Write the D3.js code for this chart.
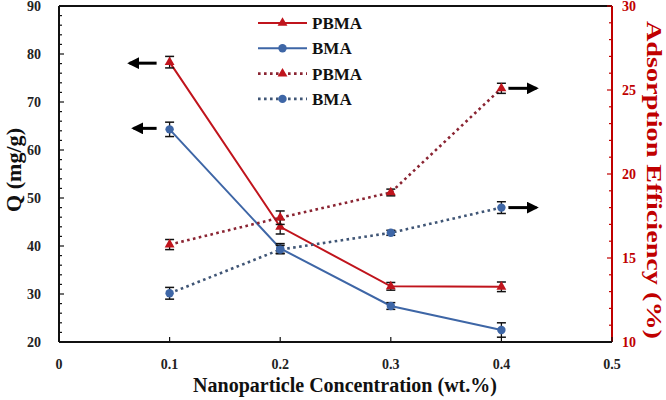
<!DOCTYPE html>
<html>
<head>
<meta charset="utf-8">
<script src="https://cdn.jsdelivr.net/npm/d3@7"></script>
<style>
  body { margin: 0; background: #fff; }
  text { font-family: "Liberation Serif", "Times New Roman", serif; font-weight: bold; }
</style>
</head>
<body>
<div id="chart"></div>
<script>
// Data
const conc = [0.1, 0.2, 0.3, 0.4];
const qPBMA = [78.3, 44.0, 31.6, 31.5];
const qPBMAErr = [1.2, 1.5, 0.8, 1.0];
const qBMA = [64.3, 39.5, 27.5, 22.5];
const qBMAErr = [1.5, 1.0, 0.7, 1.5];
const effPBMA = [15.8, 17.4, 18.9, 25.1];
const effPBMAErr = [0.3, 0.4, 0.2, 0.3];
const effBMA = [12.9, 15.5, 16.5, 18.0];
const effBMAErr = [0.35, 0.25, 0.15, 0.35];
const xTicks = [0, 0.1, 0.2, 0.3, 0.4, 0.5];
const yLeftTicks = [20, 30, 40, 50, 60, 70, 80, 90];
const yRightTicks = [10, 15, 20, 25, 30];
const legendLabels = ["PBMA", "BMA", "PBMA", "BMA"];

// Constants
const width = 666;
const height = 400;
const RED = "#C0141C";
const BLUE = "#3E66A6";
const RED_DOT = "#8A2432";
const BLUE_DOT = "#3F5575";
const AXIS_RED = "#C00000";

const svg = d3.select("#chart")
  .append("svg")
  .attr("width", width)
  .attr("height", height);

const x = d3.scaleLinear().domain([0, 0.5]).range([59, 612]);
const yL = d3.scaleLinear().domain([20, 90]).range([342, 6]);
const yR = d3.scaleLinear().domain([10, 30]).range([342, 6]);

// Top frame line
svg.append("line").attr("x1", x(0)).attr("x2", x(0.5)).attr("y1", yL(90)).attr("y2", yL(90))
  .attr("stroke", "#111").attr("stroke-width", 2);

// Left axis, ticks inside
const leftAxis = svg.append("g").attr("transform", `translate(${x(0)},0)`);
leftAxis.append("line").attr("y1", yL(20)).attr("y2", yL(90)).attr("stroke", "#111").attr("stroke-width", 2);
leftAxis.selectAll(".minor").data(d3.range(20, 90.1, 2)).join("line")
  .attr("x1", 0).attr("x2", d => d % 10 === 0 ? 5 : 3)
  .attr("y1", d => yL(d)).attr("y2", d => yL(d))
  .attr("stroke", "#111").attr("stroke-width", 1.2);
leftAxis.selectAll("text").data(yLeftTicks).join("text")
  .attr("x", -18).attr("y", d => yL(d)).attr("dy", "0.35em")
  .attr("text-anchor", "end").attr("font-size", 14).attr("fill", "#222")
  .text(d => d);

// Right axis, red, ticks inside
const rightAxis = svg.append("g").attr("transform", `translate(${x(0.5)},0)`);
rightAxis.append("line").attr("y1", yR(10)).attr("y2", yR(30)).attr("stroke", AXIS_RED).attr("stroke-width", 2);
rightAxis.selectAll(".minor").data(d3.range(10, 30.1, 1)).join("line")
  .attr("x1", 0).attr("x2", d => d % 5 === 0 ? -5 : -3)
  .attr("y1", d => yR(d)).attr("y2", d => yR(d))
  .attr("stroke", AXIS_RED).attr("stroke-width", 1.2);
rightAxis.selectAll("text").data(yRightTicks).join("text")
  .attr("x", 10).attr("y", d => yR(d)).attr("dy", "0.35em")
  .attr("text-anchor", "start").attr("font-size", 14).attr("fill", AXIS_RED)
  .text(d => d);

// Bottom axis
const bottomAxis = svg.append("g");
bottomAxis.append("line").attr("x1", x(0)).attr("x2", x(0.5)).attr("y1", yL(20)).attr("y2", yL(20))
  .attr("stroke", "#111").attr("stroke-width", 2);
bottomAxis.selectAll(".tick").data(xTicks).join("line")
  .attr("x1", d => x(d)).attr("x2", d => x(d))
  .attr("y1", yL(20)).attr("y2", yL(20) - 5)
  .attr("stroke", "#111").attr("stroke-width", 1.2);
bottomAxis.selectAll("text").data(xTicks).join("text")
  .attr("x", d => x(d)).attr("y", 369)
  .attr("text-anchor", "middle").attr("font-size", 14).attr("fill", "#222")
  .text(d => d);

// Axis titles (rotated ones are stretched along their length like in the figure)
svg.append("text")
  .attr("transform", `translate(14,170) rotate(-90)`)
  .attr("text-anchor", "middle").attr("dy", "0.35em")
  .attr("font-size", 21).attr("fill", "#111")
  .attr("textLength", 84).attr("lengthAdjust", "spacingAndGlyphs")
  .text("Q (mg/g)");
svg.append("text")
  .attr("transform", `translate(654,180) rotate(90)`)
  .attr("text-anchor", "middle").attr("dy", "0.35em")
  .attr("font-size", 20).attr("fill", AXIS_RED)
  .attr("textLength", 318).attr("lengthAdjust", "spacingAndGlyphs")
  .text("Adsorption Efficiency (%)");
svg.append("text")
  .attr("x", 345).attr("y", 392)
  .attr("text-anchor", "middle").attr("font-size", 20).attr("fill", "#111")
  .text("Nanoparticle Concentration (wt.%)");

// Series
const series = [
  { vals: qPBMA, err: qPBMAErr, y: yL, color: RED, markColor: RED, dotted: false, shape: "tri" },
  { vals: qBMA, err: qBMAErr, y: yL, color: BLUE, markColor: BLUE, dotted: false, shape: "circ" },
  { vals: effPBMA, err: effPBMAErr, y: yR, color: RED_DOT, markColor: RED, dotted: true, shape: "tri" },
  { vals: effBMA, err: effBMAErr, y: yR, color: BLUE_DOT, markColor: BLUE, dotted: true, shape: "circ" }
];

const triSymbol = d3.symbol().type(d3.symbolTriangle).size(42);

function drawMarker(g, shape, color, cx, cy) {
  if (shape === "tri") {
    g.append("path").attr("d", triSymbol()).attr("transform", `translate(${cx},${cy})`).attr("fill", color);
  } else {
    g.append("circle").attr("cx", cx).attr("cy", cy).attr("r", 4.2).attr("fill", color);
  }
}

series.forEach(s => {
  const g = svg.append("g");
  const pts = conc.map((c, i) => [x(c), s.y(s.vals[i])]);
  g.append("path")
    .attr("d", d3.line()(pts))
    .attr("fill", "none")
    .attr("stroke", s.color)
    .attr("stroke-width", s.dotted ? 2.6 : 2)
    .attr("stroke-dasharray", s.dotted ? "2.6,3.4" : null);
  // error bars
  conc.forEach((c, i) => {
    const cx = x(c);
    const top = s.y(s.vals[i] + s.err[i]);
    const bot = s.y(s.vals[i] - s.err[i]);
    g.append("line").attr("x1", cx).attr("x2", cx).attr("y1", top).attr("y2", bot)
      .attr("stroke", "#111").attr("stroke-width", 1.3);
    [top, bot].forEach(yy => {
      g.append("line").attr("x1", cx - 4.5).attr("x2", cx + 4.5).attr("y1", yy).attr("y2", yy)
        .attr("stroke", "#111").attr("stroke-width", 1.5);
    });
  });
  pts.forEach(p => drawMarker(g, s.shape, s.markColor, p[0], p[1]));
});

// Legend
const legend = svg.append("g");
series.forEach((s, i) => {
  const ly = 23 + i * 25.3;
  legend.append("line").attr("x1", 258).attr("x2", 307).attr("y1", ly).attr("y2", ly)
    .attr("stroke", s.color)
    .attr("stroke-width", s.dotted ? 2.6 : 2)
    .attr("stroke-dasharray", s.dotted ? "2.6,3.4" : null);
  drawMarker(legend, s.shape, s.markColor, 282.5, ly);
  legend.append("text").attr("x", 312).attr("y", ly).attr("dy", "0.35em")
    .attr("font-size", 17).attr("fill", "#111").text(legendLabels[i]);
});

// Arrows pointing to the axis each group belongs to
svg.append("defs").append("marker")
  .attr("id", "arrowhead").attr("viewBox", "0 0 10 10")
  .attr("refX", 8).attr("refY", 5)
  .attr("markerWidth", 4).attr("markerHeight", 4)
  .attr("markerUnits", "strokeWidth")
  .attr("orient", "auto")
  .append("path").attr("d", "M0,0L10,5L0,10z").attr("fill", "#000");

const arrows = [
  { x1: x(0.1) - 13, y: yL(qPBMA[0]) + 1, x2: x(0.1) - 40 },
  { x1: x(0.1) - 13, y: yL(qBMA[0]) - 1, x2: x(0.1) - 36 },
  { x1: x(0.4) + 7, y: yR(effPBMA[3]), x2: x(0.4) + 35 },
  { x1: x(0.4) + 7, y: yR(effBMA[3]), x2: x(0.4) + 35 }
];
arrows.forEach(a => {
  svg.append("line")
    .attr("x1", a.x1).attr("x2", a.x2).attr("y1", a.y).attr("y2", a.y)
    .attr("stroke", "#000").attr("stroke-width", 3)
    .attr("marker-end", "url(#arrowhead)");
});
</script>
</body>
</html>
